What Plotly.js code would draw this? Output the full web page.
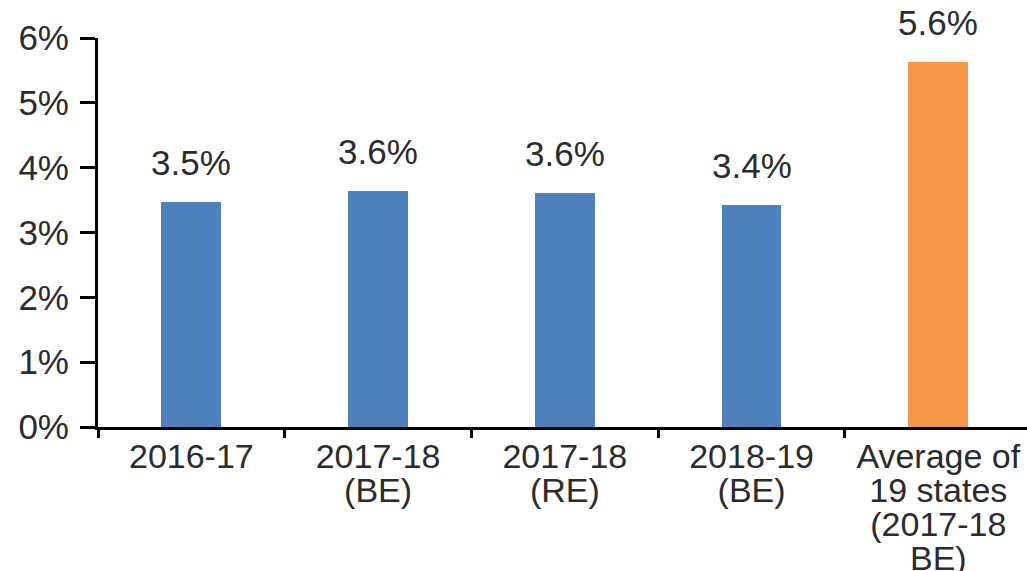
<!DOCTYPE html>
<html>
<head>
<meta charset="utf-8">
<script src="https://cdn.plot.ly/plotly-3.0.1.min.js"></script>
<style>html,body{margin:0;padding:0;background:#fff;}#chart{width:1027px;height:571px;}</style>
</head>
<body>
<div id="chart"></div>
<script>
// ---- data ----
const categories = ["2016-17", "2017-18<br>(BE)", "2017-18<br>(RE)", "2018-19<br>(BE)", "Average of<br>19 states<br>(2017-18<br>BE)"];
const values = [0.0347, 0.0364, 0.0361, 0.0343, 0.0563];
const barColors = ["#4F81BD", "#4F81BD", "#4F81BD", "#4F81BD", "#F79646"];
const yTicks = [0, 0.01, 0.02, 0.03, 0.04, 0.05, 0.06];

// ---- styles ----
const FONT = "Liberation Sans, Arial, sans-serif";
const TXT = "#2b2b2b";
const glyph = s => s.split("<br>").map(p => '<span style="font-size:34px">' + p + '</span>').join("<br>");

const trace = {
  type: "bar",
  x: categories,
  y: values,
  width: 0.32,
  marker: { color: barColors, line: { width: 0 } },
  hoverinfo: "skip"
};

const annotations = categories.map((c, i) => ({
  x: c, y: values[i], xref: "x", yref: "y",
  text: (values[i] * 100).toFixed(1) + "%",
  showarrow: false, yanchor: "bottom", yshift: 18,
  font: { family: FONT, size: 35, color: TXT }
}));

const layout = {
  width: 1027, height: 571,
  margin: { l: 98, r: 0, t: 38, b: 144, pad: 0 },
  paper_bgcolor: "#fff", plot_bgcolor: "#fff",
  showlegend: false,
  bargap: 0,
  xaxis: {
    type: "category",
    range: [-0.5, 4.475],
    tickmode: "array",
    tickvals: categories,
    ticktext: categories.map(glyph),
    tickson: "boundaries",
    ticks: "outside", ticklen: 8, tickwidth: 3, tickcolor: "#000",
    ticklabelstandoff: 7,
    showline: true, linecolor: "#000", linewidth: 3,
    showgrid: false, zeroline: false,
    tickfont: { family: FONT, size: 26, color: TXT },
    automargin: false
  },
  yaxis: {
    range: [0, 0.06],
    tickmode: "array",
    tickvals: yTicks,
    tickformat: ".0%",
    ticks: "outside", ticklen: 15, tickwidth: 3, tickcolor: "#000",
    ticklabelstandoff: 4,
    showline: true, linecolor: "#000", linewidth: 3,
    showgrid: false, zeroline: false,
    tickfont: { family: FONT, size: 35, color: TXT },
    automargin: false
  },
  annotations: annotations
};

Plotly.newPlot("chart", [trace], layout, { staticPlot: true, displayModeBar: false });
</script>
</body>
</html>
